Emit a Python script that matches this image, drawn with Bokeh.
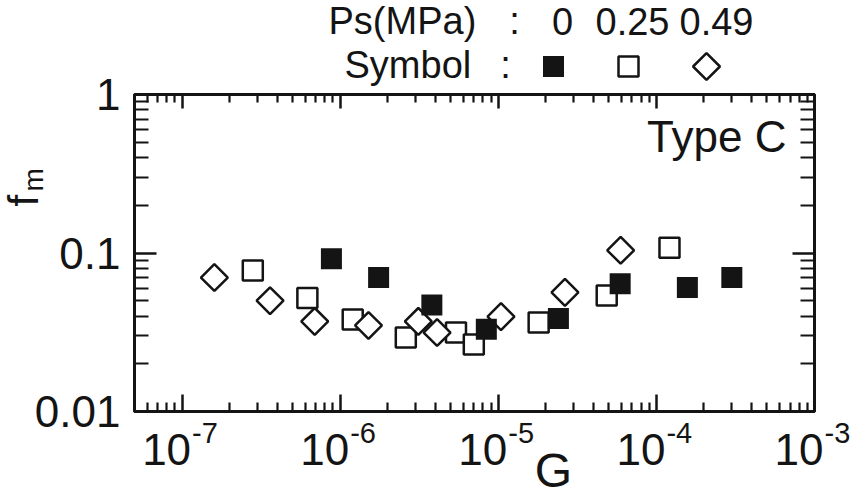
import math
import numpy as np
from bokeh.plotting import figure
from bokeh.models import FixedTicker, Range1d, LogAxis, CustomJSTickFormatter, LinearScale
from bokeh.core.properties import value
from bokeh.embed import file_html
from bokeh.resources import INLINE

# ---------------- data ----------------
# Ps = 0 MPa  (filled squares)
g_ps0 = [8.8e-7, 1.75e-6, 3.8e-6, 8.4e-6, 2.4e-5, 5.9e-5, 1.57e-4, 3.0e-4]
f_ps0 = [0.092, 0.070, 0.047, 0.033, 0.0386, 0.064, 0.0605, 0.070]
# Ps = 0.25 MPa (open squares)
g_ps025 = [2.8e-7, 6.2e-7, 1.2e-6, 2.6e-6, 5.4e-6, 7.0e-6, 1.8e-5, 4.85e-5, 1.21e-4]
f_ps025 = [0.0776, 0.052, 0.038, 0.0293, 0.0315, 0.0265, 0.0365, 0.054, 0.108]
# Ps = 0.49 MPa (open diamonds)
g_ps049 = [1.6e-7, 3.6e-7, 6.9e-7, 1.51e-6, 3.12e-6, 4.1e-6, 1.04e-5, 2.64e-5, 5.94e-5]
f_ps049 = [0.070, 0.050, 0.037, 0.0349, 0.037, 0.0315, 0.0397, 0.0564, 0.104]

x_ticks = [1e-7, 1e-6, 1e-5, 1e-4, 1e-3]
x_tick_exponents = ["-7", "-6", "-5", "-4", "-3"]
y_ticks = [0.01, 0.1, 1]
ps_values = ["0", "0.25", "0.49"]

XMIN, XMAX = 5e-8, 1e-3
YMIN, YMAX = 0.01, 1.0

FONT = "Liberation Sans"
INK = "#141414"

x_minor = [k * 10.0 ** e for e in range(-8, -3) for k in range(2, 10) if XMIN <= k * 10.0 ** e <= XMAX]
y_minor = [k * 10.0 ** e for e in range(-2, 0) for k in range(2, 10)]

W, H = 857, 501
FRAME_L, FRAME_T, FRAME_R, FRAME_B = 134, 94, 814, 411  # frame edges on the canvas

# ---------------- main chart ----------------
p = figure(width=W, height=H, x_axis_type="log", y_axis_type="log",
           x_range=Range1d(XMIN, XMAX), y_range=Range1d(YMIN, YMAX),
           output_backend="svg", toolbar_location=None,
           min_border_left=FRAME_L, min_border_right=W - FRAME_R,
           min_border_top=FRAME_T, min_border_bottom=H - FRAME_B)
p.grid.visible = False
p.background_fill_color = "white"
p.border_fill_color = "white"
p.outline_line_color = INK
p.outline_line_width = 3

p.add_layout(LogAxis(), "above")
p.add_layout(LogAxis(), "right")

for ax in p.xaxis:
    ax.ticker = FixedTicker(ticks=x_ticks, minor_ticks=x_minor)
for ax in p.yaxis:
    ax.ticker = FixedTicker(ticks=y_ticks, minor_ticks=y_minor)

blank = CustomJSTickFormatter(code="return ''")
for ax in p.xaxis + p.yaxis:
    ax.axis_line_color = INK
    ax.axis_line_width = 3
    ax.major_tick_line_color = INK
    ax.minor_tick_line_color = INK
    ax.major_tick_line_width = 2.5
    ax.minor_tick_line_width = 2.2
    ax.major_tick_out = 0
    ax.minor_tick_out = 0
    ax.formatter = blank
    ax.major_label_standoff = 0

bottom = p.below[0]
bottom.major_tick_in = 17
bottom.minor_tick_in = 9
top = p.above[0]
top.major_tick_in = 14
top.minor_tick_in = 8
left = p.left[0]
left.major_tick_in = 22
left.minor_tick_in = 14
left.major_label_text_font_size = "44px"
left.major_label_text_font = FONT
left.major_label_text_color = INK
left.major_label_standoff = 14
left.formatter = CustomJSTickFormatter(code="return String(tick)")
right = p.right[0]
right.major_tick_in = 22
right.minor_tick_in = 14

p.scatter(g_ps025, f_ps025, marker="square", size=20, fill_color="white",
          line_color=INK, line_width=2.5)
p.scatter(g_ps049, f_ps049, marker="square", angle=np.pi / 4, size=19,
          fill_color="white", line_color=INK, line_width=2.5)
p.scatter(g_ps0, f_ps0, marker="square", size=21, fill_color=INK, line_color=None)

# ---------------- transparent text layer over the whole canvas ----------------
# Its log x scale continues the chart's scale across the full canvas width,
# so tick labels are placed at the tick values themselves.
ppd = (FRAME_R - FRAME_L) / math.log10(XMAX / XMIN)
ov_x0 = 10 ** (math.log10(XMIN) - FRAME_L / ppd)
ov_x1 = 10 ** (math.log10(XMAX) + (W - FRAME_R) / ppd)

ov = figure(width=W, height=H, x_axis_type="log", x_range=Range1d(ov_x0, ov_x1),
            y_range=Range1d(H, 0), output_backend="svg", toolbar_location=None,
            min_border=0, min_border_left=0, min_border_right=0,
            min_border_top=0, min_border_bottom=0,
            x_axis_location=None, y_axis_location=None)
ov.extra_x_ranges = {"px": Range1d(0, W)}
ov.extra_x_scales = {"px": LinearScale()}
ov.grid.visible = False
ov.background_fill_color = None
ov.border_fill_color = None
ov.outline_line_color = None
ov.styles = {"position": "absolute", "left": "0px", "top": "0px", "pointer-events": "none"}

BASE_FIX = 0.4  # the text glyph sits this many font-sizes below its anchor


def txt(xs, ys, texts, size, align="left", angle=0.0, font=FONT, x_offset=0, rng="px"):
    """Place texts so that their alphabetic baseline lands on the given canvas position."""
    shift = BASE_FIX * size
    if angle:
        xs = [x - shift for x in xs]
    else:
        ys = [y - shift for y in ys]
    kw = dict(text_font=value(font), text_font_size=f"{size}px", text_color=INK,
              text_align=align, text_baseline="alphabetic", angle=angle, x_offset=x_offset)
    if rng:
        kw["x_range_name"] = rng
    ov.text(x=xs, y=ys, text=texts, **kw)


# x tick labels: "10" plus raised exponent, at the tick values
txt(x_ticks, [467] * len(x_ticks), ["10"] * len(x_ticks), 44, align="right", x_offset=9, rng=None)
txt(x_ticks, [444] * len(x_ticks), x_tick_exponents, 29, align="left", x_offset=10, rng=None)

# axis titles
txt([553], [489], ["G"], 48, align="center")
txt([40], [206], ["f"], 42, angle=np.pi / 2)
txt([44], [191], ["m"], 28, angle=np.pi / 2)

# in-plot annotation
txt([786], [154], ["Type C"], 44, align="right")

# legend block at the top
LEG = 38
txt([328], [36], ["Ps(MPa)"], LEG)
txt([514, 505], [36, 80], [":", ":"], LEG, align="center")
txt([562, 632, 716], [36] * 3, ps_values, LEG, align="center")
txt([344], [80], ["Symbol"], LEG)
ov.scatter([553], [66], x_range_name="px", marker="square", size=21, fill_color=INK, line_color=None)
ov.scatter([628], [66], x_range_name="px", marker="square", size=20, fill_color="white",
           line_color=INK, line_width=2.5)
ov.scatter([706], [66], x_range_name="px", marker="square", angle=np.pi / 4, size=19,
           fill_color="white", line_color=INK, line_width=2.5)

open("out.html", "w").write(file_html([p, ov], INLINE))
